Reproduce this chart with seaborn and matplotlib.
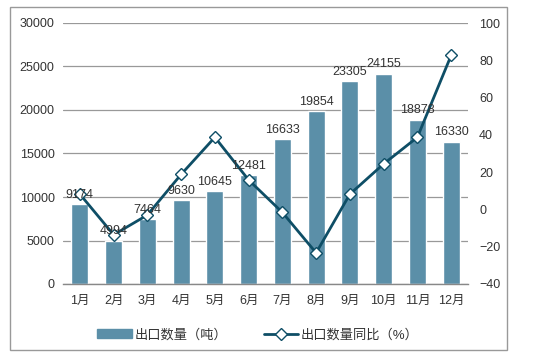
import matplotlib
matplotlib.use("Agg")
import matplotlib.pyplot as plt
import seaborn as sns
import numpy as np
import pandas as pd
from matplotlib.patches import Rectangle
from matplotlib.lines import Line2D
from matplotlib.patches import Patch

months = ["1月", "2月", "3月", "4月", "5月", "6月", "7月", "8月", "9月", "10月", "11月", "12月"]
volume = [9174, 4994, 7464, 9630, 10645, 12481, 16633, 19854, 23305, 24155, 18878, 16330]
yoy = [8.2, -13.6, -3.0, 18.8, 38.7, 15.8, -1.6, -23.3, 8.2, 24.4, 38.7, 82.6]
bar_label = "出口数量（吨）"
line_label = "出口数量同比（%）"

sns.set_theme(style="white")
plt.rcParams['font.family'] = ['Liberation Sans', 'Noto Sans CJK SC', 'DejaVu Sans']

bar_color = "#5B8FA8"
line_color = "#0E4E66"
text_color = "#333333"

df = pd.DataFrame({"month": months, "volume": volume, "yoy": yoy})

fig = plt.figure(figsize=(5.47, 3.64), dpi=100)
ax = fig.add_axes([63/547, 1-284/364, (468-63)/547, (284-23)/364])

sns.barplot(data=df, x="month", y="volume", color=bar_color, width=0.5,
            saturation=1, ax=ax, zorder=2)
ax.set_ylim(0, 30000)
ax.set_yticks(np.arange(0, 30001, 5000))
ax.set_xlim(-0.5, 11.5)
ax.yaxis.grid(True, color="#999999", linewidth=0.9, zorder=0)
ax.set_axisbelow(True)
for s in ["left", "right", "top"]:
    ax.spines[s].set_visible(False)
ax.spines["bottom"].set_color("#888888")
ax.spines["bottom"].set_linewidth(1.0)
ax.set_xlabel("")
ax.set_ylabel("")
ax.tick_params(axis="both", length=0, labelsize=9, colors=text_color, pad=6)
ax.tick_params(axis="x", pad=8)

ax2 = ax.twinx()
sns.lineplot(data=df, x="month", y="yoy", ax=ax2, color=line_color, linewidth=2,
             marker="D", markersize=6.5, markerfacecolor="white",
             markeredgecolor=line_color, markeredgewidth=1.0, sort=False, zorder=3)
ax2.set_ylim(-40, 100)
ax2.set_yticks(np.arange(-40, 101, 20))
for s in ["left", "right", "top", "bottom"]:
    ax2.spines[s].set_visible(False)
ax2.set_xlabel("")
ax2.set_ylabel("")
ax2.tick_params(axis="y", length=0, labelsize=9, colors=text_color, pad=8)
ax2.set_xlim(-0.5, 11.5)

for i, v in enumerate(volume):
    ax2.text(i, v + 400, str(v), ha="center", va="bottom", fontsize=9, color=text_color,
             zorder=6, transform=ax.transData)

handles = [Patch(facecolor=bar_color, edgecolor=bar_color),
           Line2D([0], [0], color=line_color, linewidth=2, marker="D", markersize=6,
                  markerfacecolor="white", markeredgecolor=line_color)]
fig.legend(handles, [bar_label, line_label], loc="center", bbox_to_anchor=(0.472, 1-335/364),
           ncol=2, frameon=False, fontsize=9.5, handlelength=2.6, columnspacing=2.8,
           handletextpad=0.2, labelcolor=text_color)

fig.patches.append(Rectangle((10/547, 1-350/364), (507-10)/547, (350-7)/364,
                             transform=fig.transFigure, fill=False,
                             edgecolor="#999999", linewidth=1.0))

fig.savefig("out.png", dpi=100)
